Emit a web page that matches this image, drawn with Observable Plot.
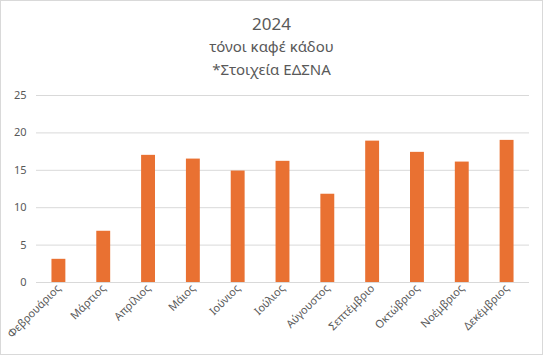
<!DOCTYPE html>
<html>
<head>
<meta charset="utf-8">
<script src="https://cdn.jsdelivr.net/npm/d3@7"></script>
<script src="https://cdn.jsdelivr.net/npm/@observablehq/plot@0.6"></script>
<style>
  body { margin: 0; background: #fff; }
  #frame { width: 541px; height: 353px; border: 1px solid #d9d9d9; position: relative; overflow: hidden; font-family: "Noto Sans", "Open Sans", sans-serif; color: #595959; }
  .t { text-align: center; white-space: nowrap; }
  #t1 { font-size: 17px; line-height: 22px; padding-top: 12px; }
  #t2 { font-size: 15px; line-height: 23px; }
  #t3 { font-size: 15px; line-height: 22px; }
  #chart { position: absolute; left: 0; top: 85px; }
</style>
</head>
<body>
<div id="frame">
  <div class="t" id="t1">2024</div>
  <div class="t" id="t2">τόνοι καφέ κάδου</div>
  <div class="t" id="t3">*Στοιχεία ΕΔΣΝΑ</div>
  <div id="chart"></div>
</div>
<script>
const months = ["Φεβρουάριος","Μάρτιος","Απρίλιος","Μάιος","Ιούνιος","Ιούλιος","Αύγουστος","Σεπτέμβριο","Οκτώβριος","Νοέμβριος","Δεκέμβριος"];
const tonnes = [3.1, 6.85, 17.0, 16.5, 14.9, 16.2, 11.8, 18.9, 17.4, 16.1, 19.0];
const yTicks = [0, 5, 10, 15, 20, 25];

const data = months.map((m, i) => ({month: m, value: tonnes[i]}));

const chart = Plot.plot({
  width: 541,
  height: 268,
  marginTop: 9,
  marginBottom: 72,
  marginLeft: 35,
  marginRight: 13,
  style: {fontFamily: "\"Noto Sans\", \"Open Sans\", sans-serif", fontSize: "11px", color: "#595959", background: "transparent"},
  x: {domain: months, paddingInner: 0.69, paddingOuter: 0.345, round: false, label: null},
  y: {domain: [0, 25], label: null},
  marks: [
    Plot.gridY(yTicks, {stroke: "#d9d9d9", strokeOpacity: 1, strokeWidth: 1}),
    Plot.axisY(yTicks, {tickSize: 0, tickPadding: 10, fontSize: 11, fill: "#595959"}),
    Plot.barY(data, {x: "month", y: "value", fill: "#E97132"}),
    Plot.ruleY([0], {stroke: "#d9d9d9"}),
    Plot.axisX({tickSize: 0, tickRotate: -45, tickPadding: 4, fontSize: 11, fill: "#595959"})
  ]
});
document.getElementById("chart").appendChild(chart);
</script>
</body>
</html>
